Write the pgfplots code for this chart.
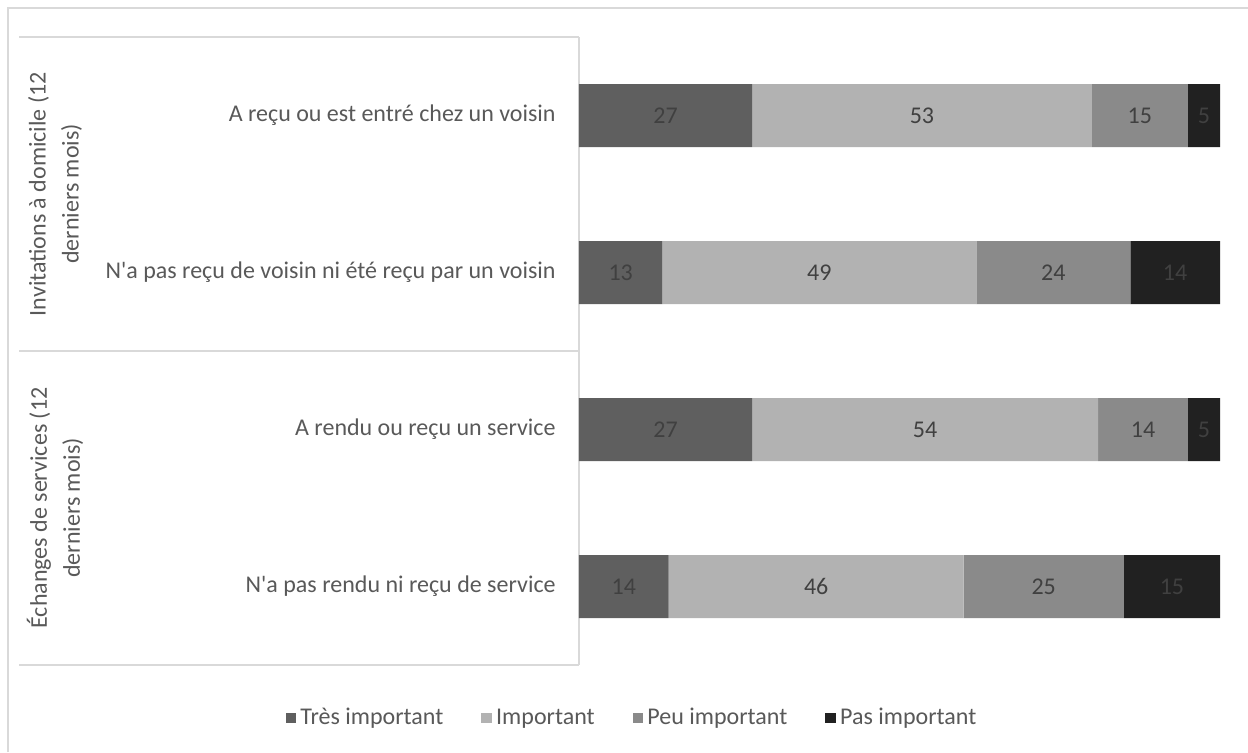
\documentclass[border=0pt]{standalone}
\usepackage{pgfplots}
\pgfplotsset{compat=1.18}
\usepackage{pgfplotstable}
\usepackage{fontspec}
\setmainfont{Carlito}

\definecolor{c1}{HTML}{5F5F5F}
\definecolor{c2}{HTML}{B2B2B2}
\definecolor{c3}{HTML}{8A8A8A}
\definecolor{c4}{HTML}{212121}
\definecolor{txt}{HTML}{595959}
\definecolor{numc}{HTML}{404040}
\definecolor{linec}{HTML}{D9D9D9}

% one row per category, one column per answer
\pgfplotstableread{
y a b c d
1 27 53 15 5
2 13 49 24 14
3 27 54 14 5
4 14 46 25 15
}\data

\begin{document}
\begin{tikzpicture}
\useasboundingbox (0,0) rectangle (624pt,-376pt);
\draw[linec, line width=0.75pt] (4pt,-376pt) -- (4pt,-4pt) -- (624pt,-4pt);

\begin{axis}[
at={(289.5pt,-18.5pt)}, anchor=north west,
scale only axis,
width=320.5pt, height=314pt,
xbar stacked,
bar width=31.5pt,
xmin=0, xmax=100,
ymin=0.5, ymax=4.5,
y dir=reverse,
axis x line=none,
axis y line*=left,
y axis line style={draw=linec, line width=0.75pt},
ytick={1,2,3,4},
yticklabels={A reçu ou est entré chez un voisin,
  N\textquotesingle a pas reçu de voisin ni été reçu par un voisin,
  A rendu ou reçu un service,
  N\textquotesingle a pas rendu ni reçu de service},
major tick length=0pt,
yticklabel style={anchor=east, inner sep=0pt, xshift=-11.5pt, text=txt, font=\fontsize{12}{14}\selectfont},
point meta=explicit,
nodes near coords,
/pgf/number format/assume math mode=true,
every node near coord/.append style={anchor=center, text=numc, font=\fontsize{12}{14}\selectfont},
clip=false,
legend columns=4,
legend style={at={(rel axis cs:0.0842,-0.0844)}, anchor=center, draw=none,
  font=\fontsize{12}{14}\selectfont, text=txt,
  /tikz/every even column/.append style={column sep=17pt}},
legend image code/.code={\fill[#1] (0pt,-2.7pt) rectangle (5.4pt,2.7pt);},
]
\addplot[fill=c1, draw=none] table[x=a, y=y, meta=a] {\data};
\addplot[fill=c2, draw=none] table[x=b, y=y, meta=b] {\data};
\addplot[fill=c3, draw=none] table[x=c, y=y, meta=c] {\data};
\addplot[fill=c4, draw=none] table[x=d, y=y, meta=d] {\data};
\legend{Très important, Important, Peu important, Pas important}

% group frame lines
\draw[linec, line width=0.75pt] (rel axis cs:-0.8736,1) -- (rel axis cs:0,1);
\draw[linec, line width=0.75pt] (rel axis cs:-0.8736,0.5) -- (rel axis cs:0,0.5);
\draw[linec, line width=0.75pt] (rel axis cs:-0.8736,0) -- (rel axis cs:0,0);
\end{axis}

\node[rotate=90, align=center, text=txt, font=\fontsize{12}{16.5}\selectfont] at (27.5pt,-97pt)
  {Invitations à domicile (12\\derniers mois)};
\node[rotate=90, align=center, text=txt, font=\fontsize{12}{16.5}\selectfont] at (27.5pt,-254pt)
  {Échanges de services (12\\derniers mois)};
\end{tikzpicture}
\end{document}
